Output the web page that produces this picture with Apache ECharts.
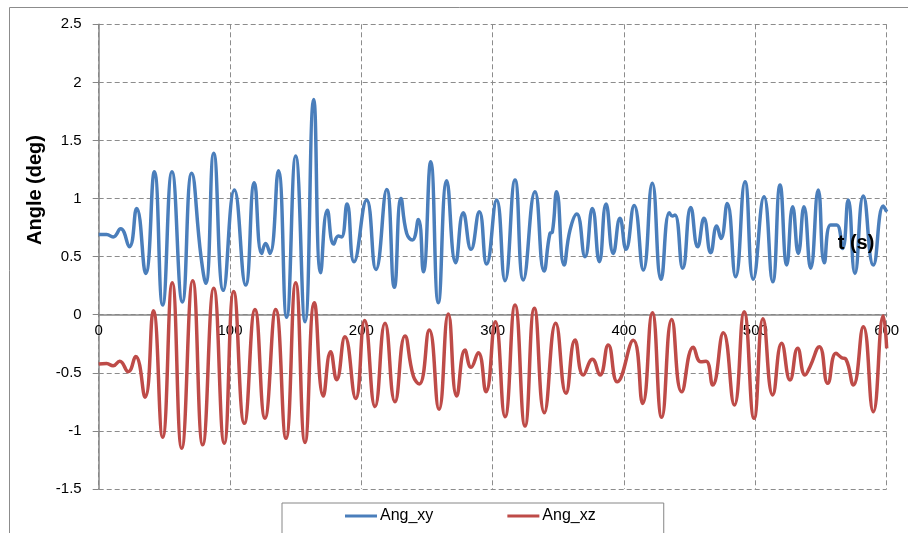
<!DOCTYPE html>
<html>
<head>
<meta charset="utf-8">
<script src="https://cdn.jsdelivr.net/npm/echarts@6/dist/echarts.min.js"></script>
<style>
html,body{margin:0;padding:0;background:#fff;}
#chart{width:908px;height:533px;}
</style>
</head>
<body>
<div id="chart"></div>
<script>
// ---- data ----
const seriesNames = ['Ang_xy', 'Ang_xz'];
const xTicks = [0, 100, 200, 300, 400, 500, 600];
const yTicks = [-1.5, -1, -0.5, 0, 0.5, 1, 1.5, 2, 2.5];

const tXY = [0,6,11,16.7,23.3,28.9,35.8,42.4,48.7,55.8,63.7,70.8,77.9,81.5,87.6,94.9,103.3,111.9,118.5,124.1,127.1,130.4,136.8,143.1,150,157.1,163.7,169,174.1,178.9,182.5,184.9,189.1,194.4,204,211.1,219.3,225.1,230.2,234.5,238.8,243.4,247.2,252.8,258.6,265,271.8,277.6,283.5,289.8,295.4,303,309.4,317,323.3,332.2,339.1,343.6,345.4,348.7,354.3,358.9,364,370.3,375.9,381.2,386.3,391.8,396.9,401.5,407.7,414.7,421.5,428.2,434.5,436.8,438.8,444.7,450.8,456.1,460.9,466,470.6,473.8,478.6,485,492.1,498.4,506.6,513.2,518.8,523.9,528.4,532.7,537,542.1,547.9,552.5,557.3,561.9,566.4,570.7,575.8,582.2,589.8,597.4,600];
const vXY = [0.69,0.69,0.67,0.74,0.585,0.915,0.356,1.23,0.083,1.23,0.11,1.217,0.5,0.27,1.39,0.21,1.073,0.256,1.136,0.528,0.614,0.528,1.24,-0.022,1.366,-0.06,1.853,0.361,0.90,0.608,0.677,0.67,0.953,0.456,0.987,0.39,1.079,0.236,1.0,0.70,0.643,0.82,0.37,1.317,0.103,1.153,0.448,0.878,0.563,0.886,0.436,0.987,0.293,1.159,0.30,1.059,0.376,0.70,0.71,1.059,0.428,0.73,0.867,0.50,0.915,0.456,0.953,0.528,0.83,0.563,0.94,0.385,1.131,0.305,0.878,0.85,0.858,0.40,0.924,0.585,0.83,0.534,0.763,0.657,0.958,0.327,1.145,0.305,1.016,0.284,1.116,0.428,0.93,0.528,0.93,0.40,1.073,0.448,0.772,0.772,0.571,0.987,0.356,1.022,0.428,0.935,0.886];

const tXZ = [0,6,11,16,22.5,28.1,35.3,41.6,48.7,56,63.2,71.6,79.2,87.6,95.6,102.8,110.9,119,126.6,134.8,142.6,150,157.1,164.2,171,176.6,181.2,187.5,195.7,202.5,210.4,218,225.6,233.2,239.6,244.1,251.7,259.1,266.2,272.6,278.9,283.5,289,294.9,302,309.4,317,324.6,331.7,339.3,348,355.8,362.7,369,375.9,381.7,388,394.9,407,414.2,421.5,428.7,436.3,443.9,452.8,458.4,462.5,467.5,475.6,484,491.4,499,505.8,513.2,520,526.4,532.2,537.8,541.6,548.7,555.1,561.4,565.7,569,574.6,582.2,589.8,597.4,600];
const vXZ = [-0.424,-0.42,-0.44,-0.40,-0.49,-0.36,-0.71,0.034,-1.055,0.275,-1.15,0.293,-1.12,0.227,-1.107,0.2,-0.935,0.046,-0.89,0.046,-1.064,0.275,-1.10,0.103,-0.70,-0.318,-0.56,-0.19,-0.72,-0.05,-0.79,-0.074,-0.749,-0.183,-0.53,-0.596,-0.132,-0.814,0.006,-0.70,-0.304,-0.453,-0.327,-0.663,-0.06,-0.878,0.083,-0.958,0.055,-0.843,-0.074,-0.676,-0.218,-0.519,-0.384,-0.519,-0.261,-0.577,-0.22,-0.763,0.017,-0.883,-0.04,-0.663,-0.28,-0.404,-0.40,-0.605,-0.155,-0.777,0.026,-0.892,-0.035,-0.69,-0.246,-0.562,-0.289,-0.519,-0.447,-0.275,-0.59,-0.332,-0.37,-0.384,-0.605,-0.103,-0.835,-0.011,-0.289];

const pairs = (t, v) => t.map((x, i) => [x, v[i]]);

const FONT = "'Liberation Sans', Arial, sans-serif";
const GRID_TOP = 24.3, GRID_BOTTOM = 44, H = 533;
const plotH = H - GRID_TOP - GRID_BOTTOM;
const yMin = yTicks[0], yMax = yTicks[yTicks.length - 1];
// distance (px) from bottom of plot up to the value 0, so the x axis sits on zero
const zeroOffset = plotH * (0 - yMin) / (yMax - yMin);

const chart = echarts.init(document.getElementById('chart'), null, {renderer: 'canvas'});
chart.setOption({
  animation: false,
  backgroundColor: '#fff',
  grid: {left: 98.7, right: 21.3, top: GRID_TOP, bottom: GRID_BOTTOM, containLabel: false},
  xAxis: {
    type: 'value', min: xTicks[0], max: xTicks[xTicks.length - 1], interval: 100,
    position: 'bottom', offset: -zeroOffset,
    axisLine: {onZero: false, lineStyle: {color: '#868686', width: 1.5}},
    axisTick: {show: false},
    axisLabel: {color: '#000', fontFamily: FONT, fontSize: 15, margin: 9},
    splitLine: {show: true, lineStyle: {color: '#8c8c8c', type: [5, 3], width: 1}}
  },
  yAxis: {
    type: 'value', min: yMin, max: yMax, interval: 0.5,
    axisLine: {show: true, onZero: false, lineStyle: {color: '#868686', width: 1.5}},
    axisTick: {show: true, length: 6, lineStyle: {color: '#868686'}},
    axisLabel: {color: '#000', fontFamily: FONT, fontSize: 15, margin: 17},
    splitLine: {show: true, lineStyle: {color: '#8c8c8c', type: [5, 3], width: 1}}
  },
  legend: {
    data: seriesNames,
    left: 282, top: 503,
    padding: [5, 68, 30, 63],
    itemGap: 74,
    itemWidth: 32, itemHeight: 3,
    icon: 'rect',
    borderColor: '#868686', borderWidth: 1,
    textStyle: {color: '#000', fontFamily: FONT, fontSize: 16, padding: [0, 0, 0, -2]}
  },
  graphic: [
    {type: 'rect', shape: {x: 9.5, y: 7.5, width: 1000, height: 1000}, style: {fill: 'none', stroke: '#8c8c8c', lineWidth: 1}, z: 0},
    {type: 'text', x: 35, y: 190, rotation: Math.PI / 2,
     style: {text: 'Angle (deg)', fontFamily: FONT, fontWeight: 'bold', fontSize: 20, fill: '#000', align: 'center', verticalAlign: 'middle'}},
    {type: 'text', x: 856, y: 243,
     style: {text: 't (s)', fontFamily: FONT, fontWeight: 'bold', fontSize: 20, fill: '#000', align: 'center', verticalAlign: 'middle'}, z: 100}
  ],
  series: [
    {name: seriesNames[0], type: 'line', data: pairs(tXY, vXY), smooth: 0.5, showSymbol: false, symbol: 'none',
     lineStyle: {color: '#4a7ebb', width: 3.5}, itemStyle: {color: '#4a7ebb'}},
    {name: seriesNames[1], type: 'line', data: pairs(tXZ, vXZ), smooth: 0.5, showSymbol: false, symbol: 'none',
     lineStyle: {color: '#be4b48', width: 3.5}, itemStyle: {color: '#be4b48'}}
  ]
});
</script>
</body>
</html>
